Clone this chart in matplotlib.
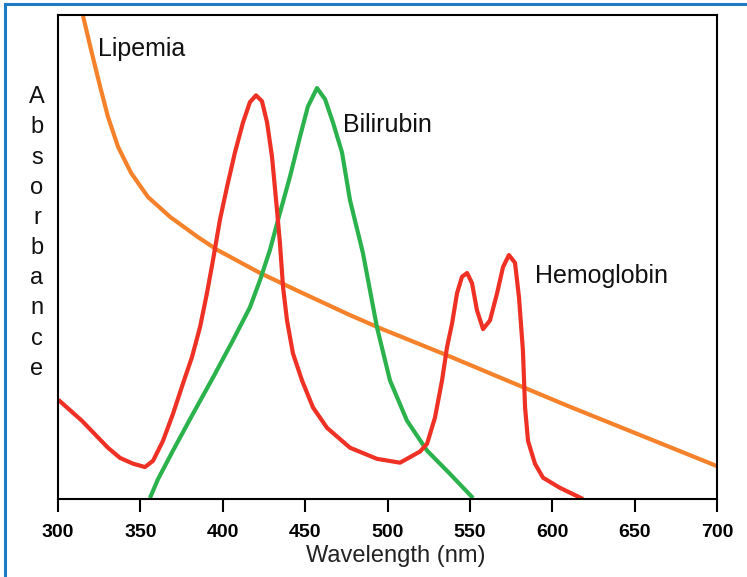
import numpy as np
import matplotlib
matplotlib.use("Agg")
import matplotlib.pyplot as plt

plt.rcParams['font.family'] = ['Liberation Sans', 'DejaVu Sans']

## Curves (wavelength in nm, absorbance in arbitrary units 0-100) ##

hemo_nm = [300.2, 314.4, 330.3, 337.6, 345.5, 352.8, 357.7, 363.7, 369.8, 375.9,
           381.3, 386.2, 390.4, 394.1, 398.3, 402.6, 407.4, 412.3, 416.5, 420.2,
           423.8, 426.9, 429.9, 432.9, 434.7, 436.6, 439.0, 442.6, 448.1, 454.8,
           463.3, 477.2, 493.6, 507.6, 519.7, 524.0, 528.8, 533.1, 536.1, 539.2,
           542.2, 545.2, 548.3, 551.3, 554.3, 558.0, 562.2, 566.5, 570.1, 573.7,
           577.4, 579.8, 582.2, 583.5, 585.3, 589.5, 594.4, 604.7, 618.7]
hemo_abs = [20.5, 16.2, 10.6, 8.5, 7.3, 6.6, 7.9, 12.0, 17.6, 23.9,
            29.3, 35.5, 42.5, 49.4, 57.7, 64.5, 71.6, 77.8, 82.0, 83.4,
            82.2, 77.8, 70.7, 59.8, 52.9, 43.8, 36.9, 30.1, 24.5, 18.9,
            14.7, 10.6, 8.3, 7.5, 9.8, 11.4, 16.8, 24.5, 31.3, 36.3,
            42.5, 45.9, 46.7, 44.6, 39.0, 35.1, 36.9, 42.5, 47.9, 50.4,
            48.8, 41.7, 30.7, 18.9, 12.0, 7.3, 4.4, 2.3, 0.0]

bili_nm = [355.8, 360.7, 369.8, 381.9, 394.1, 406.2, 416.5, 422.6, 428.7, 434.7,
           440.8, 446.9, 451.7, 457.2, 462.1, 466.9, 472.4, 477.2, 485.1, 493.6,
           501.5, 511.8, 524.0, 537.9, 551.9]
bili_abs = [0.2, 4.1, 10.0, 17.6, 25.1, 32.8, 39.6, 45.2, 51.5, 59.1,
            66.6, 74.9, 81.1, 84.9, 82.6, 77.8, 71.6, 61.8, 50.8, 35.5,
            24.5, 16.2, 10.0, 5.2, 0.2]

lip_nm = [315.2, 320.0, 325.5, 330.3, 336.4, 344.3, 354.6, 368.0, 385.0, 396.5,
          422.6, 448.7, 477.2, 495.4, 536.1, 568.3, 609.0, 700.0]
lip_abs = [99.8, 92.9, 85.3, 79.0, 72.8, 67.4, 62.4, 58.3, 54.1, 51.5,
           46.7, 42.5, 38.0, 35.3, 29.7, 25.1, 19.3, 6.8]

xticks = [300, 350, 400, 450, 500, 550, 600, 650, 700]

RED = '#ee3124'
GREEN = '#2bb24c'
ORANGE = '#f5822a'

fig = plt.figure(figsize=(7.47, 5.77), dpi=100)
ax = fig.add_axes([58 / 747, 1 - 499 / 577, (717 - 58) / 747, (499 - 15) / 577])

ax.plot(lip_nm, lip_abs, color=ORANGE, lw=3, solid_capstyle='butt', solid_joinstyle='round')
ax.plot(bili_nm, bili_abs, color=GREEN, lw=3, solid_capstyle='butt', solid_joinstyle='round')
ax.plot(hemo_nm, hemo_abs, color=RED, lw=3, solid_capstyle='butt', solid_joinstyle='round')

ax.set_xlim(300, 700)
ax.set_ylim(0, 100)
ax.set_xticks(xticks)
ax.set_xticklabels([str(t) for t in xticks], fontsize=14, fontweight='bold')
ax.set_yticks([])
ax.tick_params(axis='x', direction='out', length=9, width=1.5, pad=9)
for s in ax.spines.values():
    s.set_linewidth(1.5)

ax.set_xlabel('Wavelength (nm)', fontsize=17, color='#222222')
ax.xaxis.set_label_coords(0.513, -0.095)

ax.text(324.3, 91.5, 'Lipemia', fontsize=18, va='baseline', color='#111111')
ax.text(473, 75.8, 'Bilirubin', fontsize=18, va='baseline', color='#111111')
ax.text(589.5, 44.6, 'Hemoglobin', fontsize=18, va='baseline', color='#111111')

# stacked y label
fig.text(37 / 747, 1 - 233 / 577, '\n'.join('Absorbance'), fontsize=17,
         ha='center', va='center', linespacing=1.48, color='#111111')

# blue frame (top and left only)
fig.add_artist(plt.Line2D([5 / 747, 5 / 747], [0, 1 - 4 / 577], transform=fig.transFigure,
                          color='#1f7bc4', lw=2.2))
fig.add_artist(plt.Line2D([5 / 747, 1], [1 - 4 / 577, 1 - 4 / 577], transform=fig.transFigure,
                          color='#1f7bc4', lw=2.2))

fig.savefig('out.png', dpi=100)
